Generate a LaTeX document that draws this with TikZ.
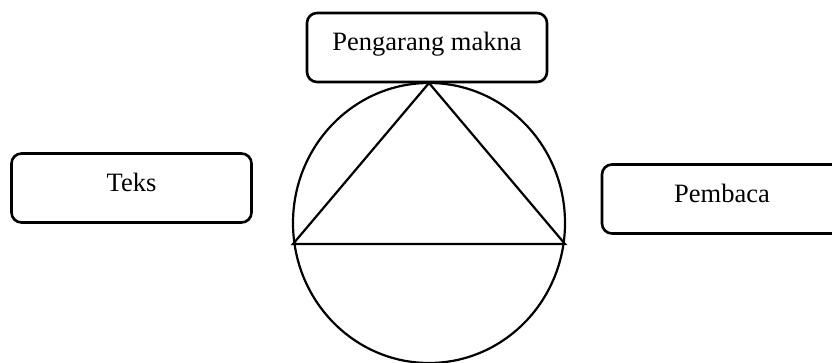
\documentclass[tikz,border=0pt]{standalone}
\usepackage{fontspec}
\setmainfont{Liberation Serif}
\begin{document}
\begin{tikzpicture}[x=1pt,y=-1pt,
  labelbox/.style={draw=black, line width=2.6pt, rounded corners=10pt,
    minimum width=240pt, inner xsep=0pt, inner ysep=0pt,
    text height=38pt, text depth=31pt,
    font=\fontsize{26.5}{30}\selectfont},
  stroke/.style={line width=2.2pt, line join=miter}]
  \useasboundingbox (0,0) rectangle (832,363);
  \clip (0,0) rectangle (832,363);

  % the three labelled boxes
  \node[labelbox] (author) at (427,47.5) {Pengarang makna};
  \node[labelbox] (text)   at (131.5,188) {Teks};
  \node[labelbox] (reader) at (722,199)  {Pembaca};

  % circle with the inscribed triangle
  \coordinate (centre) at (429,223);
  \coordinate (apex)   at (429,83);
  \coordinate (left)   at (293,244);
  \coordinate (right)  at (565,244);
  \draw[stroke] (centre) ellipse [x radius=136, y radius=140];
  \draw[stroke] (apex) -- (left) -- (right) -- cycle;
\end{tikzpicture}
\end{document}
